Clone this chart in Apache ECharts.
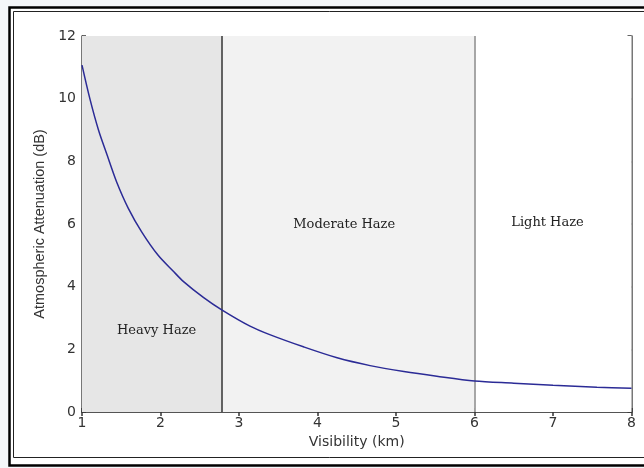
<!DOCTYPE html>
<html lang="en">
<head>
<meta charset="UTF-8">
<style>
  html, body { margin: 0; padding: 0; background: #f4f6f9; }
  #chart { width: 644px; height: 468px; }
</style>
<script src="https://cdn.jsdelivr.net/npm/echarts@6/dist/echarts.min.js"></script>
</head>
<body>
<div id="chart"></div>
<script>
// visibility (km) vs attenuation (dB)
const visibility = [1.0, 1.1, 1.21, 1.32, 1.44, 1.59, 1.76, 1.97, 2.16, 2.29, 2.55, 2.78, 3.14, 3.40, 3.82, 4.25, 4.67, 5.10, 5.52, 6.0, 6.5, 7.0, 7.56, 8.0];
const attenuation = [11.07, 10.0, 9.0, 8.2, 7.35, 6.5, 5.75, 5.0, 4.5, 4.17, 3.65, 3.26, 2.74, 2.46, 2.08, 1.73, 1.48, 1.29, 1.14, 0.99, 0.92, 0.85, 0.79, 0.76];

// haze zones: [from, to, label, label x, label y]
const zones = [
  [1, 2.78, 'Heavy Haze', 1.95, 2.59],
  [2.78, 6, 'Moderate Haze', 4.34, 5.97],
  [6, 8, 'Light Haze', 6.93, 6.03]
];
const zoneColors = ['#e6e6e6', '#f2f2f2', '#ffffff'];

const chart = echarts.init(document.getElementById('chart'), null, { renderer: 'canvas' });

const axisLine = { show: true, lineStyle: { color: '#4a4a4a', width: 1.5 } };
const tickIn = { show: true, inside: true, length: 4, lineStyle: { color: '#333', width: 1.5 } };
const wideFont = { color: '#333', fontSize: 14, fontFamily: 'DejaVu Sans, sans-serif' };

const option = {
  animation: false,
  backgroundColor: 'transparent',
  graphic: [
    { type: 'rect', shape: { x: 9.5, y: 7.5, width: 700, height: 458 }, style: { fill: '#fff', stroke: '#000', lineWidth: 2.5 }, z: -10 },
    { type: 'rect', shape: { x: 13.5, y: 11.5, width: 700, height: 446 }, style: { fill: 'none', stroke: '#222', lineWidth: 1 }, z: -9 }
  ],
  grid: { left: 82, right: 12.5, top: 36, bottom: 56 },
  xAxis: [
    {
      type: 'value', min: 1, max: 8, interval: 1,
      name: 'Visibility (km)', nameLocation: 'middle', nameGap: 22,
      nameTextStyle: wideFont,
      axisLine: axisLine, axisTick: tickIn, splitLine: { show: false },
      axisLabel: Object.assign({ margin: 4 }, wideFont)
    },
    {
      type: 'value', min: 1, max: 8, interval: 1, position: 'top',
      axisLine: axisLine, axisTick: tickIn, splitLine: { show: false },
      axisLabel: { show: false }
    }
  ],
  yAxis: [
    {
      type: 'value', min: 0, max: 12, interval: 2,
      name: 'Atmospheric Attenuation (dB)', nameLocation: 'middle', nameGap: 33,
      nameTextStyle: { color: '#333', fontSize: 14.5, fontFamily: 'Liberation Sans, Arial, sans-serif' },
      axisLine: axisLine, axisTick: tickIn, splitLine: { show: false },
      axisLabel: Object.assign({ margin: 6 }, wideFont)
    },
    {
      type: 'value', min: 0, max: 12, interval: 2, position: 'right',
      axisLine: axisLine, axisTick: tickIn, splitLine: { show: false },
      axisLabel: { show: false }
    }
  ],
  series: [
    {
      type: 'line',
      data: visibility.map((v, i) => [v, attenuation[i]]),
      showSymbol: false,
      smooth: 0.3,
      lineStyle: { color: '#2b2b96', width: 1.5 },
      z: 5,
      markArea: {
        silent: true,
        data: zones.map((z, i) => [
          { xAxis: z[0], yAxis: 0, itemStyle: { color: zoneColors[i] } },
          { xAxis: z[1], yAxis: 12 }
        ])
      },
      markLine: {
        silent: true,
        symbol: 'none',
        label: { show: false },
        data: [
          { xAxis: zones[0][1], lineStyle: { color: '#333', width: 1.5, type: 'solid' } },
          { xAxis: zones[1][1], lineStyle: { color: '#8a8a8a', width: 1.5, type: 'solid' } }
        ]
      },
      markPoint: {
        silent: true,
        symbol: 'rect',
        symbolSize: 1,
        itemStyle: { color: 'rgba(0,0,0,0)' },
        data: zones.map(z => ({
          coord: [z[3], z[4]],
          label: {
            show: true, formatter: z[2], position: 'inside',
            color: '#222', fontSize: 13, fontFamily: 'DejaVu Serif, serif'
          }
        }))
      }
    }
  ]
};

chart.setOption(option);
</script>
</body>
</html>
